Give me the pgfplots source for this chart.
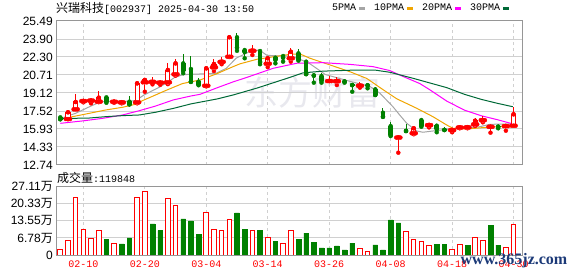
\documentclass[border=0pt]{standalone}
\usepackage{pgfplots}
\usepackage{pgfplotstable}
\pgfplotsset{compat=1.18}
\usepackage{fontspec}
\setmainfont{Liberation Sans}
\setmonofont{Liberation Mono}
\newfontfamily\cjk{Noto Sans CJK SC}
\newfontfamily\wmfont{Liberation Serif}
\definecolor{kred}{RGB}{255,0,0}
\definecolor{kgreen}{RGB}{0,128,0}
\definecolor{ma5}{RGB}{165,165,165}
\definecolor{ma10}{RGB}{240,165,0}
\definecolor{ma20}{RGB}{255,0,255}
\definecolor{ma30}{RGB}{0,105,55}
\definecolor{gridc}{RGB}{208,208,208}
\definecolor{framec}{RGB}{150,150,150}
\definecolor{wmc}{RGB}{232,232,238}
\definecolor{wmblue}{RGB}{28,58,120}
\pgfplotsset{
  vbar/.style 2 args={color=#1, only marks, mark=none, forget plot, error bars/.cd, y dir=plus, y explicit, error mark=none, error bar style={draw=#1, #2}},
  hbar/.style 2 args={color=#1, only marks, mark=none, forget plot, error bars/.cd, x dir=both, x explicit, error mark=none, error bar style={draw=#1, #2}},
}
% red (rising) candles: i Open High Low Close
\pgfplotstableread{
i O H L C
1 16.81 17.43 16.79 17.41
2 17.67 19.03 17.65 18.32
3 18.40 18.60 18.29 18.42
4 18.44 18.60 18.20 18.46
5 18.35 19.29 18.30 18.70
7 18.34 18.50 18.25 18.36
8 18.28 18.42 18.20 18.30
10 18.29 19.98 18.20 19.97
11 20.06 20.38 19.23 20.27
12 20.10 20.50 19.88 20.12
13 20.03 20.30 19.84 20.05
14 20.06 21.74 19.90 21.15
15 20.77 22.10 20.65 21.74
19 19.76 21.40 19.70 21.30
20 21.39 22.10 21.06 21.68
21 21.87 22.33 21.66 21.90
22 22.33 24.09 22.30 24.05
25 22.85 23.36 22.48 22.88
27 21.71 22.33 21.40 22.19
30 22.19 23.13 21.89 22.77
35 20.17 20.65 20.17 20.19
36 20.16 20.56 19.82 20.19
39 19.76 20.12 19.59 19.79
44 15.17 15.20 13.83 15.19
46 15.55 16.05 15.46 15.99
48 16.27 16.48 16.07 16.29
51 15.83 15.99 15.64 15.85
52 16.06 16.20 15.99 16.08
53 16.07 16.22 15.99 16.09
54 16.34 16.93 16.20 16.66
55 16.71 17.10 16.52 16.73
56 16.12 16.34 15.60 16.14
58 16.18 16.34 15.78 16.20
59 16.22 17.90 16.22 17.23
}\redc
% green (falling) candles: i Open High Low Close
\pgfplotstableread{
i O H L C
0 16.96 16.98 16.78 16.81
6 18.73 18.76 18.25 18.35
9 18.35 18.85 18.10 18.12
16 21.74 22.54 20.86 21.09
17 21.24 22.36 20.09 20.12
18 20.12 20.47 19.80 19.88
23 24.05 24.45 22.85 23.13
24 22.92 22.95 22.19 22.75
26 22.83 22.85 21.66 21.86
28 22.24 22.26 21.74 22.06
29 22.39 22.42 21.89 22.24
31 22.63 22.98 21.98 22.10
32 21.89 21.92 20.78 20.80
33 20.68 20.86 20.03 20.65
34 20.62 20.85 20.03 20.21
37 20.14 20.20 20.03 20.12
38 19.83 20.03 19.23 19.81
40 19.81 19.97 19.53 19.78
41 19.44 19.67 18.94 18.94
42 17.37 17.76 17.00 17.02
43 16.19 16.55 15.30 15.40
45 15.76 16.34 15.75 15.75
47 16.72 16.84 16.13 16.22
49 16.22 16.25 15.64 15.93
50 15.85 16.13 15.84 15.84
57 16.14 16.28 15.99 16.12
}\greenc
\begin{document}
\begin{tikzpicture}
\useasboundingbox (0,0) rectangle (578bp,276bp);
\node[text=wmc, font=\cjk\fontsize{34bp}{34bp}\selectfont] at (312bp,184bp) {东方财富};
\node[anchor=west, inner sep=0pt] at (56bp,268bp) {{\cjk\fontsize{12bp}{12bp}\selectfont 兴瑞科技}{\ttfamily\fontsize{10bp}{10bp}\selectfont [002937] 2025-04-30 13:50}};
\node[anchor=west, inner sep=0pt] at (57bp,98.5bp) {{\cjk\fontsize{12bp}{12bp}\selectfont 成交量}{\ttfamily\fontsize{10bp}{10bp}\selectfont :119848}};

\begin{axis}[
  at={(56bp,111bp)}, anchor=south west, scale only axis,
  width=466bp, height=144bp,
  xmin=-0.56, xmax=60.1, ymin=12.74, ymax=25.49,
  axis line style={framec, line width=1bp},
  xtick={3,11,19,27,35,43,51,59}, xticklabels={},
  ytick={12.74,14.334,15.928,17.521,19.115,20.709,22.303,23.896,25.49},
  yticklabels={12.74,14.33,15.93,17.52,19.12,20.71,22.30,23.90,25.49},
  major tick length=0pt,
  xmajorgrids, ymajorgrids,
  x grid style={gridc, line width=1bp, dash pattern=on 3bp off 3bp},
  y grid style={gridc, line width=1bp},
  yticklabel style={font=\fontsize{12bp}{12bp}\selectfont, inner sep=0pt, xshift=-3bp},
  legend plot pos=right,
  legend columns=4,
  legend style={draw=none, fill=none, at={(0.976,1.09)}, anchor=east, inner sep=0pt,
    font=\ttfamily\fontsize{10bp}{10bp}\selectfont,
    nodes={inner sep=1.5bp},
    /tikz/every even column/.append style={column sep=6bp}},
  legend image code/.code={\draw[#1, line width=3bp] (0bp,0bp) -- (6bp,0bp);},
]
\addplot[ma5, line width=1bp] coordinates {(0,16.85) (2.0,17.32) (3.8,17.9) (5.1,18.29) (5.9,18.38) (8.5,18.38) (9.8,18.44) (10.9,18.94) (13.0,19.67) (13.8,20.0) (14.9,20.5) (16.0,20.74) (18.2,20.8) (20.3,20.86) (21.6,21.3) (22.9,22.2) (24.7,22.8) (25.9,22.92) (26.9,22.45) (28.5,22.4) (29.9,22.4) (31.2,22.1) (32.5,21.7) (34.5,20.75) (37.7,20.15) (40.3,19.7) (41.6,19.1) (43.3,17.9) (44.2,17.15) (45.1,16.43) (46.4,15.75) (47.2,15.64) (48.5,15.75) (50.7,15.93) (52.9,15.99) (54.6,16.13) (55.9,16.34) (59,16.38)};
\addlegendentry{5PMA}
\addplot[ma10, line width=1bp] coordinates {(0,16.79) (1.6,17.02) (3.8,17.32) (5.9,17.61) (8.1,17.85) (9.8,18.12) (10.7,18.44) (12.4,18.94) (13.6,19.3) (15.9,19.95) (18.2,20.27) (20.3,20.8) (22.5,21.45) (23.4,21.7) (25.6,22.1) (29.9,22.54) (31.2,22.57) (32.5,22.19) (35.1,21.6) (37.7,21.0) (39.9,20.4) (41.6,19.6) (43.8,18.6) (46.4,17.76) (48.5,17.02) (50.3,16.28) (51.1,15.99) (52.9,15.93) (55,16.05) (56.8,16.13) (58.9,16.22)};
\addlegendentry{10PMA}
\addplot[ma20, line width=1bp] coordinates {(0,16.43) (3,16.65) (5.5,16.87) (8.1,17.17) (10.3,17.55) (12.4,17.96) (14.7,18.5) (17,18.85) (18.2,19.0) (20.5,19.6) (22.5,20.1) (24.3,20.5) (27.7,21.3) (30.8,21.75) (34.2,21.8) (37.7,21.65) (40.7,21.45) (42.9,21.1) (44.2,20.7) (46.8,19.95) (48.1,19.4) (50.3,18.4) (52.6,17.6) (54.8,17.1) (56.9,16.75) (58.9,16.38)};
\addlegendentry{20PMA}
\addplot[ma30, line width=1bp] coordinates {(0,16.85) (3.8,16.9) (5.9,17.02) (8.1,17.11) (10.3,17.17) (12.4,17.41) (14.7,17.75) (17,18.15) (20.5,18.6) (22.5,18.94) (25.6,19.55) (29.9,20.5) (31.6,20.9) (34.2,21.05) (38.6,21.15) (40.9,21.15) (42.9,20.95) (45.9,20.42) (50.3,19.59) (52.6,19.0) (54.8,18.55) (56.9,18.2) (58.9,17.9)};
\addlegendentry{30PMA}
% green candles
\addplot[vbar={kgreen}{line width=1bp}] table[x=i, y=L, y error expr=\thisrow{H}-\thisrow{L}] {\greenc};
\addplot[vbar={kgreen}{line width=4.6bp}] table[x=i, y=C, y error expr=\thisrow{O}-\thisrow{C}] {\greenc};
\addplot[hbar={kgreen}{line width=1bp}] table[x=i, y=C, x error expr=0.3] {\greenc};
\addplot[hbar={kgreen}{line width=1bp}] table[x=i, y=O, x error expr=0.3] {\greenc};
% red candles
\addplot[vbar={kred}{line width=1bp}] table[x=i, y=L, y error expr=\thisrow{O}-\thisrow{L}] {\redc};
\addplot[vbar={kred}{line width=1bp}] table[x=i, y=C, y error expr=\thisrow{H}-\thisrow{C}] {\redc};
\addplot[vbar={white}{line width=4.2bp}] table[x=i, y=O, y error expr=\thisrow{C}-\thisrow{O}] {\redc};
\addplot[vbar={kred}{line width=1bp, line cap=rect}] table[x expr=\thisrow{i}-0.27, y=O, y error expr=\thisrow{C}-\thisrow{O}] {\redc};
\addplot[vbar={kred}{line width=1bp, line cap=rect}] table[x expr=\thisrow{i}+0.27, y=O, y error expr=\thisrow{C}-\thisrow{O}] {\redc};
\addplot[hbar={kred}{line width=1bp, line cap=rect}] table[x=i, y=O, x error expr=0.27] {\redc};
\addplot[hbar={kred}{line width=1bp, line cap=rect}] table[x=i, y=C, x error expr=0.27] {\redc};
\end{axis}

\begin{axis}[
  at={(56bp,21bp)}, anchor=south west, scale only axis,
  width=466bp, height=68.3bp,
  xmin=-0.56, xmax=60.1, ymin=0, ymax=27.11,
  axis line style={framec, line width=1bp},
  xtick={3,11,19,27,35,43,51,59},
  xticklabels={02-10,02-20,03-04,03-14,03-26,04-08,04-18,04-30},
  ytick={0,6.7775,13.555,20.3325,27.11},
  yticklabels={0,{6.78{\cjk 万}},{13.55{\cjk 万}},{20.33{\cjk 万}},{27.11{\cjk 万}}},
  major tick length=0pt,
  xmajorgrids, ymajorgrids,
  x grid style={gridc, line width=1bp, dash pattern=on 3bp off 3bp},
  y grid style={gridc, line width=1bp},
  yticklabel style={font=\fontsize{12bp}{12bp}\selectfont, inner sep=0pt, xshift=-3bp},
  xticklabel style={font=\ttfamily\fontsize{10bp}{10bp}\selectfont, text=kred, inner sep=0pt, yshift=-6bp},
]
\addplot[ybar, bar width=0.6, bar shift=0pt, draw=kred, fill=white, line width=1bp] coordinates {(0,2.0) (1,5.95) (2,22.9) (3,10.2) (4,6.6) (5,9.8) (7,4.6) (10,22.9) (11,25.3) (14,22.5) (15,19.8) (19,16.7) (20,10.2) (21,9.8) (22,14.2) (25,9.8) (27,7.0) (29,4.6) (30,9.8) (39,2.6) (40,1.45) (45,9.5) (46,6.35) (47,5.55) (48,3.6) (51,2.25) (52,4.35) (54,7.1) (55,5.95) (58,3.05) (59,11.98)};
\addplot[ybar, bar width=0.6, bar shift=0pt, draw=kgreen, fill=kgreen, line width=0.5bp] coordinates {(6,6.35) (8,4.4) (9,6.75) (12,12.4) (13,9.65) (16,14.3) (17,13.5) (18,8.3) (23,16.7) (24,10.3) (26,9.8) (28,5.55) (31,6.2) (32,8.7) (33,5.15) (34,2.8) (35,2.8) (36,3.6) (37,2.0) (38,4.75) (41,4.0) (42,2.0) (43,13.9) (44,12.8) (49,4.35) (50,4.35) (53,3.95) (56,11.9) (57,3.95)};
\end{axis}
\node[text=wmblue, font=\wmfont\bfseries\fontsize{16bp}{16bp}\selectfont] at (514bp,15bp) {www.365jz.com};
\end{tikzpicture}
\end{document}
